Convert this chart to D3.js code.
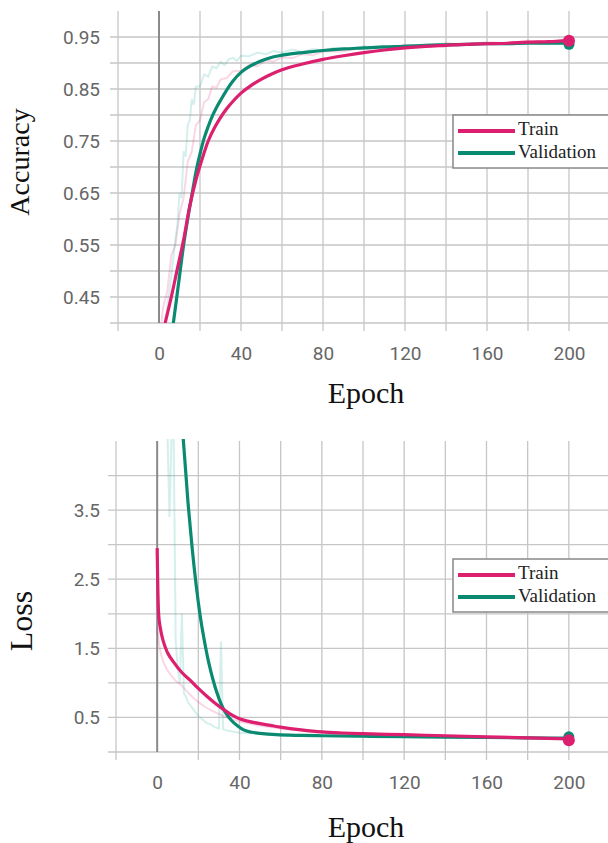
<!DOCTYPE html>
<html>
<head>
<meta charset="utf-8">
<script src="https://cdn.jsdelivr.net/npm/d3@7"></script>
<style>
  body { margin: 0; background: #fff; }
  svg { display: block; }
</style>
</head>
<body>
<svg id="chart" width="608" height="843"></svg>
<script>
// ---- data ----
var trainAcc = [[0,0.35],[3,0.40],[6,0.45],[9,0.505],[12,0.56],[15,0.625],[18,0.675],[21,0.715],[24,0.75],[27,0.775],[30,0.795],[33,0.812],[36,0.826],[40,0.842],[45,0.857],[50,0.869],[55,0.879],[60,0.887],[70,0.898],[80,0.907],[90,0.914],[100,0.92],[110,0.925],[120,0.929],[130,0.932],[140,0.934],[150,0.936],[160,0.937],[170,0.938],[180,0.94],[190,0.941],[200,0.943]];
var valAcc = [[4,0.32],[7,0.40],[10,0.49],[12,0.55],[14,0.60],[16,0.645],[18,0.69],[20,0.725],[22,0.755],[24,0.778],[26,0.798],[28,0.814],[30,0.828],[33,0.848],[36,0.865],[40,0.882],[44,0.893],[48,0.901],[52,0.907],[56,0.912],[60,0.915],[65,0.918],[70,0.92],[80,0.924],[90,0.927],[100,0.929],[110,0.931],[120,0.932],[130,0.934],[140,0.935],[150,0.936],[160,0.937],[170,0.937],[180,0.938],[190,0.938],[200,0.938]];
var trainAccRaw = [[0,0.36],[2,0.43],[4,0.46],[6,0.53],[8,0.55],[10,0.61],[12,0.64],[14,0.71],[16,0.73],[18,0.78],[20,0.79],[22,0.825],[24,0.83],[26,0.855],[28,0.852],[30,0.868],[33,0.871],[36,0.884],[40,0.885],[44,0.896],[48,0.894],[52,0.905],[56,0.903],[60,0.911],[65,0.909],[70,0.917],[75,0.915],[80,0.922],[90,0.922],[100,0.93],[110,0.929],[120,0.935],[130,0.933],[140,0.938],[150,0.936],[160,0.94],[170,0.938],[180,0.943],[190,0.941],[200,0.946]];
var valAccRaw = [[2,0.36],[4,0.43],[6,0.49],[8,0.56],[9,0.59],[10,0.65],[11,0.64],[12,0.73],[13,0.72],[14,0.78],[15,0.79],[16,0.83],[17,0.82],[18,0.855],[20,0.855],[22,0.878],[24,0.874],[26,0.893],[28,0.89],[30,0.902],[32,0.896],[34,0.907],[36,0.91],[38,0.904],[40,0.914],[44,0.913],[48,0.92],[52,0.917],[56,0.923],[60,0.92],[65,0.926],[70,0.921],[75,0.927],[80,0.924],[85,0.929],[90,0.926],[100,0.932],[110,0.928],[120,0.934],[130,0.932],[140,0.937],[150,0.934],[160,0.938],[170,0.935],[180,0.939],[190,0.936],[200,0.938]];

var trainLoss = [[0,2.95],[0.3,2.4],[0.7,2.0],[1.5,1.8],[3,1.6],[5,1.44],[8,1.3],[12,1.15],[16,1.04],[20,0.92],[24,0.81],[28,0.71],[32,0.62],[36,0.54],[40,0.48],[45,0.44],[50,0.41],[55,0.385],[60,0.36],[70,0.32],[80,0.29],[90,0.275],[100,0.265],[120,0.25],[140,0.235],[160,0.22],[180,0.205],[200,0.19]];
var valLoss = [[12.5,4.6],[15,3.6],[17,2.95],[19,2.4],[21,1.95],[23,1.6],[25,1.3],[27,1.06],[29,0.86],[31,0.7],[33,0.58],[36,0.46],[39,0.38],[42,0.32],[46,0.285],[50,0.27],[58,0.25],[70,0.24],[80,0.235],[100,0.228],[120,0.222],[140,0.215],[160,0.21],[180,0.205],[200,0.2]];
var trainLossRaw = [[0,1.8],[1,1.55],[2,1.4],[3,1.3],[5,1.18],[7,1.1],[9,1.03],[12,0.96],[15,0.86],[18,0.77],[21,0.7],[24,0.64],[27,0.59],[30,0.55],[33,0.51],[36,0.48],[40,0.44],[45,0.41],[50,0.38],[55,0.36],[60,0.34],[70,0.31],[80,0.28],[90,0.27],[100,0.26],[120,0.245],[140,0.23],[160,0.215],[180,0.2],[200,0.185]];
var valLossRaw = [[5,4.6],[6,3.4],[7,4.6],[8,4.6],[9,1.6],[10,1.2],[11,1.0],[12,2.0],[13,0.85],[14,0.8],[15,0.72],[16,0.68],[18,0.6],[20,0.52],[22,0.47],[24,0.42],[26,0.4],[28,0.36],[30,0.34],[31,1.6],[32,0.33],[34,0.31],[36,0.3],[40,0.28],[45,0.27],[50,0.26],[55,0.25],[60,0.24],[70,0.235],[80,0.23],[90,0.228],[100,0.225],[120,0.22],[140,0.215],[160,0.21],[180,0.205],[200,0.2]];

var accEnd = { train: 0.943, val: 0.936 };
var lossEnd = { train: 0.17, val: 0.22 };

var xGrid = [-20, 0, 20, 40, 60, 80, 100, 120, 140, 160, 180, 200, 220];
var xLabels = [0, 40, 80, 120, 160, 200];
var accGrid = [0.40, 0.45, 0.50, 0.55, 0.60, 0.65, 0.70, 0.75, 0.80, 0.85, 0.90, 0.95];
var accLabels = [0.45, 0.55, 0.65, 0.75, 0.85, 0.95];
var lossGrid = [0, 0.5, 1.0, 1.5, 2.0, 2.5, 3.0, 3.5, 4.0];
var lossLabels = [0.5, 1.5, 2.5, 3.5];
var legendNames = ["Train", "Validation"];

var PINK = "#dc1f6e", TEAL = "#0b8a72";
var svg = d3.select("#chart");

function drawPanel(cfg) {
  var x = d3.scaleLinear().domain([-20, 220]).range(cfg.xr);
  var y = d3.scaleLinear().domain(cfg.yd).range(cfg.yr);
  var g = svg.append("g");
  var top = cfg.yr[1], bottom = cfg.yr[0];

  // grid
  g.selectAll(".hgrid").data(cfg.grid).enter().append("line")
    .attr("x1", cfg.xr[0] - 8).attr("x2", 608)
    .attr("y1", d => y(d)).attr("y2", d => y(d))
    .attr("stroke", "#c6c6c6").attr("stroke-width", 1.3);
  g.selectAll(".vgrid").data(xGrid).enter().append("line")
    .attr("x1", d => x(d)).attr("x2", d => x(d))
    .attr("y1", top).attr("y2", d => d === 0 ? bottom : bottom + 8)
    .attr("stroke", d => d === 0 ? "#8a8a8a" : "#c6c6c6")
    .attr("stroke-width", d => d === 0 ? 2 : 1.3);

  // axes labels
  var ya = g.append("g").attr("transform", "translate(" + cfg.xr[0] + ",0)")
    .call(d3.axisLeft(y).tickValues(cfg.labels).tickSize(0).tickPadding(cfg.xr[0] - 100).tickFormat(cfg.fmt));
  var xa = g.append("g").attr("transform", "translate(0," + bottom + ")")
    .call(d3.axisBottom(x).tickValues(xLabels).tickSize(0).tickPadding(24).tickFormat(d3.format("d")));
  [ya, xa].forEach(function (a) {
    a.select(".domain").remove();
    a.selectAll("text").attr("fill", "#666").style("font-family", "Roboto, 'Open Sans', sans-serif").style("font-size", "19px");
  });

  svg.append("text").attr("x", 366).attr("y", cfg.epochY).attr("text-anchor", "middle")
    .style("font-family", "'Liberation Serif', 'Times New Roman', serif").style("font-size", "30px").attr("fill", "#111")
    .text("Epoch");
  svg.append("text").attr("transform", "translate(" + cfg.titleX + "," + cfg.titleY + ") rotate(-90)")
    .attr("text-anchor", "middle")
    .style("font-family", "'Liberation Serif', 'Times New Roman', serif").style("font-size", cfg.titleSize + "px").attr("fill", "#111")
    .text(cfg.title);

  // clip
  var cid = "clip" + cfg.id;
  svg.append("clipPath").attr("id", cid).append("rect")
    .attr("x", cfg.xr[0]).attr("y", top - 2).attr("width", 608 - cfg.xr[0]).attr("height", bottom - top + 2);
  var plot = svg.append("g").attr("clip-path", "url(#" + cid + ")");

  var raw = d3.line().x(d => x(d[0])).y(d => y(d[1]));
  var smooth = d3.line().x(d => x(d[0])).y(d => y(d[1])).curve(d3.curveMonotoneX);

  plot.append("path").datum(cfg.trainRaw).attr("d", raw).attr("fill", "none")
    .attr("stroke", PINK).attr("stroke-opacity", 0.18).attr("stroke-width", 2);
  plot.append("path").datum(cfg.valRaw).attr("d", raw).attr("fill", "none")
    .attr("stroke", "#3cb8a8").attr("stroke-opacity", 0.22).attr("stroke-width", 2);
  plot.append("path").datum(cfg.val).attr("d", smooth).attr("fill", "none")
    .attr("stroke", TEAL).attr("stroke-width", 3.2);
  plot.append("path").datum(cfg.train).attr("d", smooth).attr("fill", "none")
    .attr("stroke", PINK).attr("stroke-width", 3.2);

  svg.append("circle").attr("cx", x(200)).attr("cy", y(cfg.end.val)).attr("r", 5.5).attr("fill", TEAL);
  svg.append("circle").attr("cx", x(200)).attr("cy", y(cfg.end.train)).attr("r", 6).attr("fill", PINK);

  // legend
  var lg = svg.append("g").attr("transform", "translate(453," + cfg.legY + ")");
  lg.append("rect").attr("x", 0).attr("y", 0).attr("width", 170).attr("height", 53)
    .attr("fill", "#fff").attr("stroke", "#888").attr("stroke-width", 1.5);
  [PINK, TEAL].forEach(function (c, i) {
    lg.append("line").attr("x1", 5).attr("x2", 62).attr("y1", 16 + i * 22).attr("y2", 16 + i * 22)
      .attr("stroke", c).attr("stroke-width", 4);
    lg.append("text").attr("x", 65).attr("y", 20 + i * 23).attr("fill", "#222")
      .style("font-family", "'Liberation Serif', 'Times New Roman', serif").style("font-size", "19px")
      .text(legendNames[i]);
  });
}

drawPanel({
  id: 1, xr: [118, 610], yd: [0.4, 1.0], yr: [323, 11],
  grid: accGrid, labels: accLabels, fmt: d3.format(".2f"),
  train: trainAcc, val: valAcc, trainRaw: trainAccRaw, valRaw: valAccRaw, end: accEnd,
  epochY: 403, title: "Accuracy", titleX: 29, titleY: 162, titleSize: 28, legY: 115
});
drawPanel({
  id: 2, xr: [116, 610], yd: [0, 4.5], yr: [752, 441],
  grid: lossGrid, labels: lossLabels, fmt: d3.format(".1f"),
  train: trainLoss, val: valLoss, trainRaw: trainLossRaw, valRaw: valLossRaw, end: lossEnd,
  epochY: 837, title: "Loss", titleX: 32, titleY: 621, titleSize: 32, legY: 559
});
</script>
</body>
</html>
